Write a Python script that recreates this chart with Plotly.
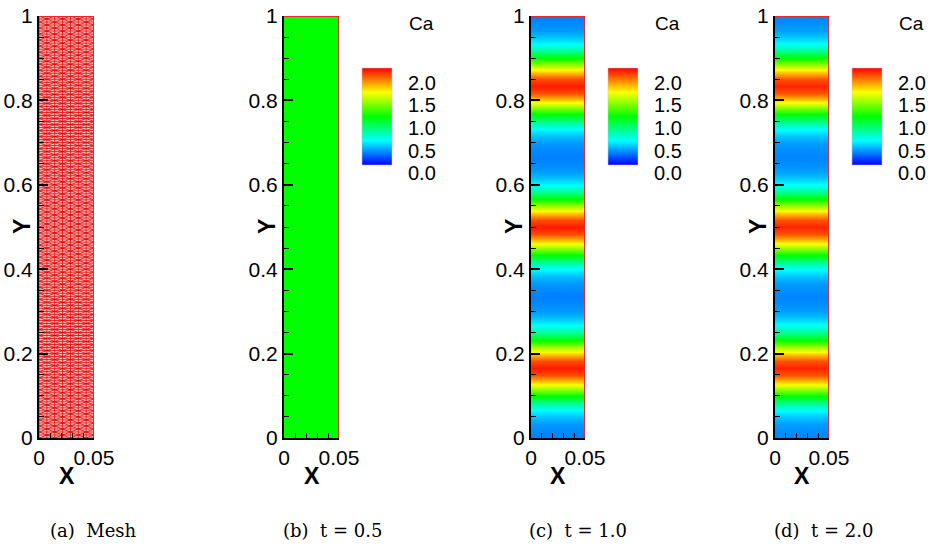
import numpy as np
import plotly.graph_objects as go

# ---------------- data ----------------
x_range = [0.0, 0.05]
y_range = [0.0, 1.0]
y_tickvals = [0, 0.2, 0.4, 0.6, 0.8, 1.0]
y_ticktext = ["0", "0.2", "0.4", "0.6", "0.8", "1"]
x_tickvals = [0, 0.05]
x_ticktext = ["0", "0.05"]
cbar_vals = ["2.0", "1.5", "1.0", "0.5", "0.0"]
captions = ["(a)  Mesh", "(b)  t = 0.5", "(c)  t = 1.0", "(d)  t = 2.0"]

# mesh resolution (cells across / along)
mesh_nx = 7
mesh_ny = 140

# Ca profile samples along y (61 samples, 0..1)
ca_y = np.linspace(0, 1, 61)
ca_t05 = [1.0] * 61
ca_t10 = [0.25, 0.27, 0.30, 0.38, 0.50, 0.72, 1.00, 1.30, 1.60, 1.85, 1.95,
          1.85, 1.60, 1.30, 1.00, 0.72, 0.50, 0.38, 0.30, 0.27, 0.25,
          0.27, 0.30, 0.38, 0.50, 0.72, 1.00, 1.30, 1.60, 1.85, 1.95,
          1.85, 1.60, 1.30, 1.00, 0.72, 0.50, 0.38, 0.30, 0.27, 0.25,
          0.27, 0.30, 0.38, 0.50, 0.72, 1.00, 1.30, 1.60, 1.85, 1.95,
          1.85, 1.60, 1.30, 1.00, 0.72, 0.50, 0.38, 0.30, 0.27, 0.25]
ca_t20 = [0.26, 0.28, 0.31, 0.39, 0.51, 0.73, 1.00, 1.30, 1.60, 1.84, 1.93,
          1.84, 1.60, 1.30, 1.00, 0.73, 0.51, 0.39, 0.31, 0.28, 0.26,
          0.28, 0.31, 0.39, 0.51, 0.73, 1.00, 1.30, 1.60, 1.84, 1.93,
          1.84, 1.60, 1.30, 1.00, 0.73, 0.51, 0.39, 0.31, 0.28, 0.26,
          0.28, 0.31, 0.39, 0.51, 0.73, 1.00, 1.30, 1.60, 1.84, 1.93,
          1.84, 1.60, 1.30, 1.00, 0.73, 0.51, 0.39, 0.31, 0.28, 0.26]

# ---------------- layout helpers ----------------
W, H = 933, 546
def px(x): return x / W
def py(y): return 1 - y / H

panel_px = [(39, 94), (284, 339), (531, 585), (775, 829)]
caption_cx = [93, 332, 578, 823]
ydom = [py(438), py(16)]
cbar_left = [None, 362, 608, 852]

SANS = "Liberation Sans, Arial, Helvetica, sans-serif"
SERIF = "DejaVu Serif, Liberation Serif, serif"

colorscale = [[0, "rgb(0,0,255)"], [0.25, "rgb(0,255,255)"], [0.5, "rgb(0,255,0)"],
              [0.75, "rgb(255,255,0)"], [1, "rgb(255,0,0)"]]

fig = go.Figure()

# ---- panel a: mesh ----
fig.add_trace(go.Heatmap(x=x_range, y=y_range, z=[[1, 1], [1, 1]],
                         colorscale=[[0, "rgb(246,196,196)"], [1, "rgb(246,196,196)"]],
                         showscale=False, xaxis="x", yaxis="y", hoverinfo="skip"))
mx = np.linspace(x_range[0], x_range[1], mesh_nx + 1)
my = np.linspace(y_range[0], y_range[1], mesh_ny + 1)
lx, ly = [], []
for yy in my:
    lx += [x_range[0], x_range[1], None]
    ly += [yy, yy, None]
for xx in mx:
    lx += [xx, xx, None]
    ly += [y_range[0], y_range[1], None]
for j in range(mesh_ny):
    for i in range(mesh_nx):
        if (i + j) % 2 == 0:
            lx += [mx[i], mx[i + 1], None]
            ly += [my[j], my[j + 1], None]
        else:
            lx += [mx[i + 1], mx[i], None]
            ly += [my[j], my[j + 1], None]
fig.add_trace(go.Scatter(x=lx, y=ly, mode="lines", line=dict(color="rgb(225,0,0)", width=0.8),
                         showlegend=False, hoverinfo="skip", xaxis="x", yaxis="y"))

# ---- panels b, c, d ----
series = [ca_t05, ca_t10, ca_t20]
for k, vals in enumerate(series, start=2):
    ax = str(k)
    fig.add_trace(go.Heatmap(
        x=x_range, y=ca_y, z=[[v, v] for v in vals],
        zmin=0, zmax=2, colorscale=colorscale, zsmooth="best",
        xaxis="x" + ax, yaxis="y" + ax, hoverinfo="skip",
        colorbar=dict(x=px(cbar_left[k - 1]), xanchor="left", y=py(165), yanchor="bottom",
                      len=97 / H, lenmode="fraction", thickness=30, thicknessmode="pixels",
                      xpad=0, ypad=0, outlinewidth=0.5, outlinecolor="rgb(200,200,200)",
                      showticklabels=False, ticks="")))

# red boundary on top/right of each panel
for k in range(1, 5):
    ax = "" if k == 1 else str(k)
    fig.add_trace(go.Scatter(x=[x_range[0], x_range[1], x_range[1]],
                             y=[y_range[1], y_range[1], y_range[0]],
                             mode="lines", line=dict(color="rgb(235,40,40)", width=2),
                             showlegend=False, hoverinfo="skip", cliponaxis=False,
                             xaxis="x" + ax, yaxis="y" + ax))

layout = dict(width=W, height=H, margin=dict(l=0, r=0, t=0, b=0, autoexpand=False),
              paper_bgcolor="white", plot_bgcolor="white", showlegend=False)

annotations = []
for k in range(1, 5):
    ax = "" if k == 1 else str(k)
    x0, x1 = panel_px[k - 1]
    layout["xaxis" + ax] = dict(
        domain=[px(x0), px(x1)], range=x_range, anchor="y" + ax,
        showline=True, linecolor="black", linewidth=2, mirror=False,
        showgrid=False, zeroline=False, fixedrange=True, automargin=False,
        ticks="inside", ticklen=8, tickwidth=2, tickcolor="black",
        tickvals=x_tickvals, ticktext=x_ticktext,
        tickfont=dict(family=SANS, size=21, color="black"),
        minor=dict(tickvals=[0.01, 0.02, 0.03, 0.04], ticks="inside", ticklen=5,
                   tickwidth=1, tickcolor="black"))
    layout["yaxis" + ax] = dict(
        domain=ydom, range=y_range, anchor="x" + ax,
        showline=True, linecolor="black", linewidth=2, mirror=False,
        showgrid=False, zeroline=False, fixedrange=True, automargin=False,
        ticks="inside", ticklen=9, tickwidth=2, tickcolor="black",
        tickvals=y_tickvals, ticktext=y_ticktext,
        tickfont=dict(family=SANS, size=21, color="black"),
        minor=dict(dtick=0.05, ticks="inside", ticklen=5, tickwidth=1, tickcolor="black"))
    # axis titles
    annotations.append(dict(text="<b>X</b>", x=px((x0 + x1) / 2), y=py(476), xref="paper", yref="paper",
                            showarrow=False, xanchor="center", yanchor="middle",
                            font=dict(family=SANS, size=23, color="black")))
    annotations.append(dict(text="<b>Y</b>", x=px(x0 - 17), y=py(227), xref="paper", yref="paper",
                            showarrow=False, xanchor="center", yanchor="middle", textangle=-90,
                            font=dict(family=SANS, size=23, color="black")))
    # caption
    annotations.append(dict(text=captions[k - 1], x=px(caption_cx[k - 1]), y=py(530),
                            xref="paper", yref="paper", showarrow=False,
                            xanchor="center", yanchor="middle",
                            font=dict(family=SERIF, size=18, color="black")))
    if k > 1:
        cl = cbar_left[k - 1]
        annotations.append(dict(text="Ca", x=px(cl + 45), y=py(24), xref="paper", yref="paper",
                                showarrow=False, xanchor="left", yanchor="middle",
                                font=dict(family=SANS, size=19, color="black")))
        for i, lab in enumerate(cbar_vals):
            annotations.append(dict(text=lab, x=px(cl + 44), y=py(82.5 + i * 22.7),
                                    xref="paper", yref="paper", showarrow=False,
                                    xanchor="left", yanchor="middle",
                                    font=dict(family=SANS, size=20, color="black")))

layout["annotations"] = annotations
fig.update_layout(**layout)
fig.write_html("out.html")
